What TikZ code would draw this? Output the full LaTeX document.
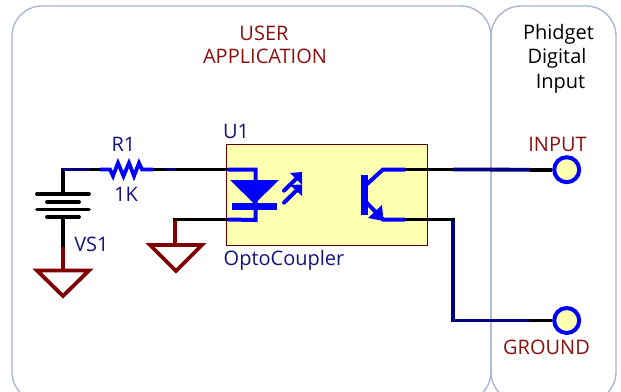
\documentclass[tikz,border=0pt]{standalone}
\usepackage{fontspec}
\setmainfont{Open Sans}
\definecolor{panel}{HTML}{A6B4D2}
\definecolor{boxfill}{HTML}{FFFFB0}
\definecolor{maroon}{HTML}{800000}
\definecolor{navy}{HTML}{000080}
\definecolor{bright}{HTML}{0000FF}
\definecolor{labelred}{HTML}{8B1010}
\definecolor{labelblue}{HTML}{14147F}
\tikzset{
  panelbox/.style={draw=panel,line width=1.3pt,rounded corners=30},
  wire/.style={line width=3.8pt,black,line cap=butt,line join=miter},
  navywire/.style={line width=3.8pt,navy,line cap=butt,line join=miter},
  sym/.style={line width=4pt,bright,line join=miter},
  gnd/.style={draw=maroon,line width=3.8pt,line join=miter},
  plate/.style={line width=3.8pt,black,line cap=round},
  pin/.style={circle,draw=bright,fill=boxfill,line width=4pt,minimum size=25,inner sep=0},
  lbl/.style={font=\fontsize{20}{23}\selectfont,inner sep=0,text=labelblue,anchor=base},
  redlbl/.style={lbl,text=labelred},
  blk/.style={lbl,text=black}
}
\begin{document}
\begin{tikzpicture}[x=1pt,y=-1pt]
\useasboundingbox (0,0) rectangle (621,391);
\begin{scope}
\clip (0,0) rectangle (621,391);
\fill[white] (0,0) rectangle (621,391);
\draw[panelbox] (12,6) rectangle (491,402);
\draw[panelbox] (491,6) rectangle (616,402);
\end{scope}
\node[draw=maroon!75!black,fill=boxfill,line width=1pt,minimum width=201.5,minimum height=101,inner sep=0] (u1) at (327.2,194.5) {};
% named points
\coordinate (j) at (63,169.5);
\coordinate (pa) at (228,169.5);
\coordinate (pc) at (228,219.5);
\coordinate (pq) at (405,169.5);
\coordinate (pe) at (405,219.5);
\coordinate (rl) at (100,169.5);
\coordinate (rr) at (153,169.5);
\coordinate (g2) at (175,219.5);
\coordinate (bt) at (63,194);
\coordinate (bb) at (63,217);
\coordinate (g1) at (63,270);
\coordinate (k1) at (453,169.5);
\coordinate (k2) at (453,219.5);
\coordinate (k3) at (453,320.5);
\node[pin] (pinin) at (566.7,169.7) {};
\node[pin] (pingnd) at (566.7,320.5) {};
\coordinate (s1) at (530,169.7);
\coordinate (s2) at (530,320.5);
% wires
\draw[wire] (bt) -- (j);
\draw[wire] (j) -- (rl);
\draw[navywire] (j) ++(-1.9,0) -- (90,169.5);
\draw[wire] (rr) -- (pa);
\draw[navywire] (165,169.5) -- (175,169.5);
\draw[wire] (bb) -- (g1);
\draw[line width=3.8pt,maroon] (63,247) -- (g1);
\draw[line width=3.8pt,maroon] (g2) -- (175,245);
\draw[wire] (g2) ++(-1.9,0) -- (pc);
\draw[wire] (pq) -- (k1);
\draw[navywire] (k1) -- (s1);
\draw[wire] (s1) -- (pinin.west);
\draw[navywire] (k2) -- (k3) -- (s2);
\draw[navywire] (k3) ++(-1.9,0) -- (s2);
\draw[wire] (s2) -- (pingnd.west);
\draw[wire] (pe) -- ++(49.9,0);
% battery
\draw[plate] (37,194) -- (89,194);
\draw[plate] (47,202) -- (79,202);
\draw[plate] (37,209.5) -- (89,209.5);
\draw[plate] (47,217) -- (79,217);
% grounds
\draw[gnd] (37,270.5) -- (89,270.5) -- (63,296) -- cycle;
\draw[gnd] (150,245) -- (202,245) -- (176,271) -- cycle;
% resistor
\draw[line width=3.8pt,bright,line join=miter] (rl) -- (110,169.5) -- (113,176) -- (118,163) -- (123.5,176) -- (129,163) -- (134,176) -- (139,163) -- (142,169.5) -- (rr);
% LED
\draw[sym] (pa) -- (255.5,169.5) -- (255.5,220) -- (pc);
\fill[bright] (230,180) -- (279,180) -- (254.5,204) -- cycle;
\fill[bright] (232,203) rectangle (277,209.5);
\draw[sym,line cap=round] (284,190.7) -- (300,175);
\fill[bright] (290,173) -- (302,172) -- (302,185) -- cycle;
\draw[sym,line cap=round] (284,202.7) -- (300,187);
\fill[bright] (290,185) -- (302,184.5) -- (302,196) -- cycle;
% transistor
\fill[bright] (361,175) rectangle (367.5,214.5);
\draw[sym] (366,185) -- (383,169.5) -- (pq);
\draw[sym] (366,202) -- (383,219.5) -- (pe);
\fill[bright] (383.5,221) -- (368,218) -- (382,205) -- cycle;
% labels
\node[redlbl] (t1) at (264,40) {USER};
\node[redlbl] (t2) at (265,63.5) {APPLICATION};
\node[blk] (t3) at (558.5,39.5) {Phidget};
\node[blk] (t4) at (557,63.5) {Digital};
\node[blk] (t5) at (560.5,88) {Input};
\node[lbl] (t6) at (123.5,151.7) {R1};
\node[lbl] (t7) at (126,201.7) {1K};
\node[lbl] (t8) at (91.5,251.7) {VS1};
\node[lbl] (t9) at (236,138) {U1};
\node[lbl] (t10) at (284,265) {OptoCoupler};
\node[redlbl] (t11) at (557.5,151.7) {INPUT};
\node[redlbl] (t12) at (546.5,354) {GROUND};
\end{tikzpicture}
\end{document}
